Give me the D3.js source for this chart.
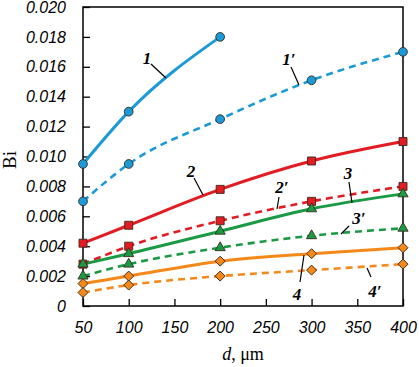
<!DOCTYPE html>
<html><head><meta charset="utf-8">
<script src="https://cdn.jsdelivr.net/npm/d3@7"></script>
<style>body{margin:0;background:#fff}svg{display:block}</style>
</head><body>
<svg id="c" width="419" height="367"></svg>
<script>
const xTicks = [50,100,150,200,250,300,350,400];
const yTicks = [0,0.002,0.004,0.006,0.008,0.010,0.012,0.014,0.016,0.018,0.020];
const d1 = [50,100,200];
const d5 = [50,100,200,300,400];
const bi1  = [0.0095,0.0130,0.0180];
const bi1p = [0.0070,0.0095,0.0125,0.0151,0.0170];
const bi2  = [0.0042,0.0054,0.0078,0.0097,0.0110];
const bi2p = [0.0028,0.0040,0.0057,0.0070,0.0080];
const bi3  = [0.0028,0.0035,0.0050,0.0065,0.0075];
const bi3p = [0.0020,0.0028,0.0039,0.0047,0.0052];
const bi4  = [0.0015,0.0020,0.0030,0.0035,0.0039];
const bi4p = [0.0009,0.0014,0.0020,0.0024,0.0028];
const labels = ["1","1′","2","2′","3","3′","4","4′"];

const series = [
 {x:d1,y:bi1,color:"#1a9ad8",dash:null,sym:d3.symbolCircle,size:60,rot:0,lab:labels[0],lx:147,ly:64,l:[151,64,166,78]},
 {x:d5,y:bi1p,color:"#1a9ad8",dash:"7,5",sym:d3.symbolCircle,size:60,rot:0,lab:labels[1],lx:289,ly:65,l:[291,67,299,85]},
 {x:d5,y:bi2,color:"#e31b23",dash:null,sym:d3.symbolSquare,size:64,rot:0,lab:labels[2],lx:191,ly:177,l:[194,178,203,195]},
 {x:d5,y:bi2p,color:"#e31b23",dash:"7,5",sym:d3.symbolSquare,size:64,rot:0,lab:labels[3],lx:282,ly:193,l:[279,197,277,209]},
 {x:d5,y:bi3,color:"#1b9a45",dash:null,sym:d3.symbolTriangle,size:45,rot:0,lab:labels[4],lx:348,ly:179,l:[349,182,352,203]},
 {x:d5,y:bi3p,color:"#1b9a45",dash:"7,5",sym:d3.symbolTriangle,size:45,rot:0,lab:labels[5],lx:359,ly:224,l:[349,226,341,234]},
 {x:d5,y:bi4,color:"#f4891a",dash:null,sym:d3.symbolSquare,size:50,rot:45,lab:labels[6],lx:297,ly:300,l:[304,255,300,282]},
 {x:d5,y:bi4p,color:"#f4891a",dash:"7,5",sym:d3.symbolSquare,size:50,rot:45,lab:labels[7],lx:375,ly:297,l:[367,268,371,277]}
];

const svg = d3.select("#c");
const L=83,R=403,T=7,B=306;
const x = d3.scaleLinear().domain([50,400]).range([L,R]);
const y = d3.scaleLinear().domain([0,0.020]).range([B,T]);

svg.append("rect").attr("x",L).attr("y",T).attr("width",R-L).attr("height",B-T)
  .attr("fill","none").attr("stroke","#000").attr("stroke-width",1.5);

const ya = svg.append("g").attr("transform",`translate(${L},0)`)
  .call(d3.axisLeft(y).tickValues(yTicks).tickSizeInner(-7).tickSizeOuter(0).tickPadding(17)
    .tickFormat(d=>d===0?"0":d.toFixed(3)));
const xa = svg.append("g").attr("transform",`translate(0,${B})`)
  .call(d3.axisBottom(x).tickValues(xTicks).tickSizeInner(-7).tickSizeOuter(0).tickPadding(16));
[ya,xa].forEach(a=>{
  a.select(".domain").remove();
  a.selectAll("line").attr("stroke","#000").attr("stroke-width",1.3);
  a.selectAll("text").attr("font-family","Liberation Sans, Arial, sans-serif")
   .attr("font-style","italic").attr("font-size",16).attr("fill","#000");
});

const line = d3.line().curve(d3.curveMonotoneX);
series.forEach(s=>{
  const pts = s.x.map((v,i)=>[x(v),y(s.y[i])]);
  svg.append("path").attr("d",line(pts)).attr("fill","none")
    .attr("stroke",s.color).attr("stroke-width",s.dash?2.6:3)
    .attr("stroke-dasharray",s.dash);
});
series.forEach(s=>{
  const sym = d3.symbol().type(s.sym).size(s.size);
  s.x.forEach((v,i)=>{
    svg.append("path").attr("d",sym())
      .attr("transform",`translate(${x(v)},${y(s.y[i])}) rotate(${s.rot})`)
      .attr("fill",s.color).attr("stroke","#3a2a1a").attr("stroke-width",0.9);
  });
  svg.append("line").attr("x1",s.l[0]).attr("y1",s.l[1]).attr("x2",s.l[2]).attr("y2",s.l[3])
    .attr("stroke","#000").attr("stroke-width",1.2);
  svg.append("text").attr("x",s.lx).attr("y",s.ly).attr("text-anchor","middle")
    .attr("font-family","Liberation Serif, Times New Roman, serif").attr("font-style","italic")
    .attr("font-weight","bold").attr("font-size",17).text(s.lab);
});

svg.append("text").attr("x",243).attr("y",360).attr("text-anchor","middle")
  .attr("font-family","Liberation Serif, Times New Roman, serif").attr("font-size",18)
  .html('<tspan font-style="italic">d</tspan>, μm');
svg.append("text").attr("transform","translate(16,160) rotate(-90)").attr("text-anchor","middle")
  .attr("font-family","Liberation Serif, Times New Roman, serif").attr("font-size",19).text("Bi");
</script>
</body></html>
